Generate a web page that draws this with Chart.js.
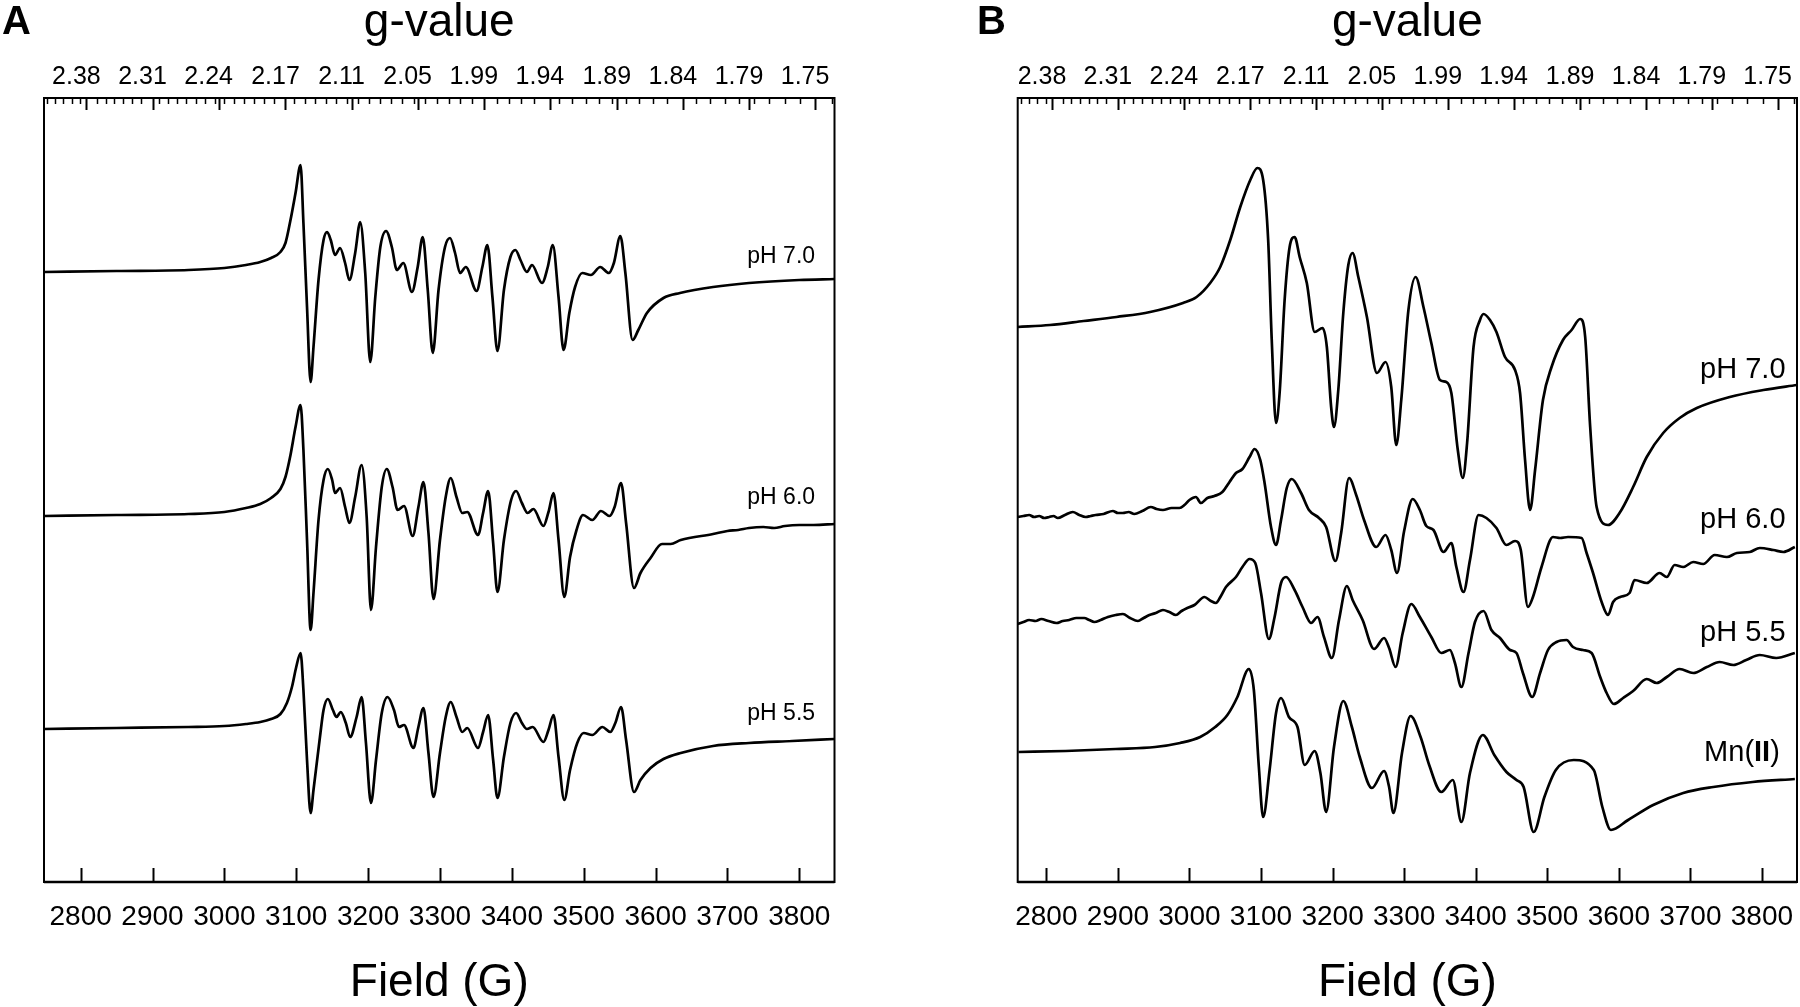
<!DOCTYPE html>
<html><head><meta charset="utf-8">
<script src="https://cdn.jsdelivr.net/npm/chart.js@4.4.1/dist/chart.umd.min.js"></script>
<style>
html,body{margin:0;padding:0;background:#fff;width:1800px;height:1007px;overflow:hidden}
canvas{position:absolute;top:0;width:900px;height:1007px}
#cA{left:0}#cB{left:900px}
</style></head><body>
<canvas id="cA" width="900" height="1007"></canvas>
<canvas id="cB" width="900" height="1007"></canvas>
<script>
// ---------------- data (field in G, intensity in arbitrary units) ----------------
const bottomTicks = [2800,2900,3000,3100,3200,3300,3400,3500,3600,3700,3800];
const gTickLabels = [2.38,2.31,2.24,2.17,2.11,2.05,1.99,1.94,1.89,1.84,1.79,1.75];
const gTickFields = [2808,2900,2992,3085,3177,3269,3361,3453,3546,3638,3730,3822];
const G_TIMES_FIELD = 6690; // g * B (G), used for the 0.01 g minor ticks

// Panel A
const A_pH70_field = [2749,2850,2950,3000,3030,3050,3065,3078,3085,3092,3099,3106,3110,3115,3120,3124,3131,3138,3143,3148,3154,3161,3168,3174,3182,3189,3196,3203,3210,3217,3225,3233,3240,3249,3261,3269,3276,3283,3290,3298,3307,3314,3321,3328,3336,3351,3359,3366,3373,3380,3389,3398,3405,3412,3421,3428,3442,3450,3457,3465,3472,3480,3488,3498,3510,3523,3535,3542,3551,3558,3568,3576,3588,3611,3634,3680,3730,3800,3849];
const A_pH70_int   = [0,1,2,4,7,10,14,20,29,52,79,107,49,-35,-110,-75,-8,32,40,32,17,24,9,-8,19,50,-1,-90,-25,25,41,25,2,9,-20,5,35,-18,-81,-18,25,34,19,-1,5,-19,5,27,-25,-79,-18,15,22,12,0,7,-11,5,27,-25,-78,-41,-15,-1,-3,5,-1,9,36,-1,-68,-58,-41,-26,-21,-15,-11,-8,-7];
const A_pH60_field = [2749,2850,2950,3000,3030,3050,3065,3078,3085,3092,3099,3106,3110,3115,3120,3124,3131,3138,3144,3150,3154,3161,3168,3174,3182,3191,3198,3204,3211,3219,3226,3234,3241,3250,3262,3270,3277,3284,3291,3300,3308,3315,3323,3331,3338,3353,3360,3367,3374,3380,3389,3399,3406,3414,3422,3430,3444,3451,3458,3465,3473,3481,3490,3499,3512,3524,3536,3543,3552,3559,3570,3579,3593,3609,3621,3635,3680,3700,3715,3730,3750,3765,3780,3800,3820,3849];
const A_pH60_int   = [0,1,2,4,8,12,18,27,39,61,89,111,66,-24,-114,-77,-4,36,47,36,23,28,9,-7,19,51,-1,-94,-31,29,47,29,6,10,-20,9,34,-17,-83,-24,19,38,19,3,4,-19,3,25,-27,-76,-24,16,25,13,3,7,-10,4,23,-24,-81,-41,-14,1,-4,5,0,9,33,-7,-72,-57,-42,-28,-28,-24,-18,-15,-14,-12,-11,-12,-10,-9,-9,-8];
const A_pH55_field = [2749,2850,2950,3000,3030,3050,3065,3078,3087,3094,3100,3106,3110,3115,3120,3124,3133,3138,3144,3151,3156,3162,3169,3175,3184,3191,3197,3204,3211,3219,3227,3236,3243,3250,3263,3270,3277,3284,3291,3300,3308,3315,3323,3331,3338,3353,3360,3367,3374,3380,3389,3398,3406,3414,3421,3429,3444,3451,3458,3465,3473,3481,3491,3500,3512,3526,3537,3544,3552,3559,3570,3579,3593,3611,3635,3680,3730,3790,3849];
const A_pH55_int   = [0,1,2,3,5,7,10,15,26,42,62,76,39,-31,-84,-61,-8,19,30,19,12,17,6,-8,12,32,-14,-74,-31,16,32,19,2,4,-19,2,21,-24,-68,-24,12,27,12,-3,1,-19,-3,14,-31,-69,-28,6,16,6,0,2,-13,-1,14,-28,-71,-41,-14,-4,-6,2,-3,6,22,-11,-63,-51,-39,-30,-24,-17,-14,-12,-10];

// Panel B
const B_pH70_field = [2760,2805,2852,2898,2945,2991,3010,3029,3043,3057,3071,3085,3095,3103,3110,3115,3121,3126,3133,3140,3147,3154,3164,3175,3186,3192,3198,3202,3208,3215,3222,3228,3236,3248,3262,3274,3282,3289,3296,3306,3316,3327,3338,3350,3359,3366,3375,3382,3388,3397,3406,3411,3420,3429,3441,3455,3462,3469,3476,3483,3494,3506,3522,3534,3546,3553,3560,3569,3585,3601,3620,3639,3662,3685,3709,3755,3802,3849];
const B_pH70_int   = [0,2,6,10,15,24,30,44,60,87,120,147,159,147,87,-13,-96,-66,27,80,90,70,44,-5,-1,-20,-80,-100,-63,14,62,74,50,10,-46,-35,-60,-118,-73,17,50,20,-16,-53,-55,-66,-123,-151,-116,-20,7,13,7,-5,-30,-43,-66,-133,-183,-143,-73,-40,-13,-3,8,-10,-100,-180,-198,-186,-160,-130,-106,-91,-81,-70,-63,-58];
const B_pH60_field = [2760,2768,2776,2783,2790,2797,2804,2810,2816,2826,2837,2846,2855,2862,2869,2880,2893,2900,2907,2915,2923,2934,2946,2954,2963,2975,2986,2993,3000,3009,3016,3025,3035,3046,3056,3065,3074,3084,3091,3099,3105,3114,3121,3128,3136,3143,3156,3167,3181,3191,3204,3212,3223,3233,3244,3261,3274,3282,3290,3300,3312,3322,3331,3341,3355,3366,3373,3383,3392,3404,3415,3429,3443,3455,3463,3473,3480,3492,3508,3518,3529,3548,3555,3564,3576,3585,3592,3602,3615,3622,3639,3657,3667,3678,3690,3704,3718,3734,3751,3765,3783,3797,3816,3830,3846];
const B_pH60_int   = [0,1,2,0,1,-1,0,1,-1,2,5,2,0,1,2,3,6,4,4,5,3,6,10,8,7,9,9,12,17,20,14,19,21,25,35,44,48,60,68,57,34,-10,-28,-3,29,38,24,7,-1,-10,-44,-16,39,22,-3,-30,-18,-33,-56,-14,18,7,-9,-13,-35,-26,-50,-75,-43,2,-1,-11,-28,-24,-33,-90,-80,-50,-20,-21,-20,-21,-36,-56,-85,-98,-85,-80,-76,-63,-66,-56,-60,-48,-50,-45,-47,-38,-40,-36,-35,-31,-33,-35,-30];
const B_pH55_field = [2760,2768,2776,2785,2793,2803,2814,2823,2832,2842,2853,2860,2867,2876,2886,2897,2907,2917,2928,2936,2944,2953,2963,2972,2981,2989,2997,3007,3021,3030,3037,3044,3051,3065,3074,3084,3092,3100,3111,3119,3128,3135,3147,3158,3170,3179,3188,3199,3209,3220,3228,3242,3258,3272,3279,3288,3298,3310,3322,3338,3352,3364,3371,3380,3390,3399,3411,3422,3434,3448,3457,3466,3479,3490,3501,3513,3527,3536,3550,3562,3574,3583,3593,3606,3620,3639,3653,3667,3685,3704,3723,3741,3760,3778,3797,3820,3846];
const B_pH55_int   = [-1,1,3,2,4,2,0,2,3,5,5,3,1,3,6,8,9,5,2,5,8,10,13,11,8,12,15,18,26,22,20,27,36,46,56,64,60,30,-16,6,40,46,33,16,0,6,-14,-35,3,37,23,3,-26,-15,-25,-44,-10,19,6,-14,-30,-27,-40,-64,-30,1,12,-7,-15,-27,-30,-50,-74,-50,-27,-19,-17,-24,-27,-30,-54,-70,-81,-75,-68,-56,-60,-54,-46,-50,-44,-39,-42,-37,-32,-35,-30];
const B_Mn_field   = [2761,2827,2897,2952,2987,3015,3036,3053,3067,3083,3090,3097,3103,3112,3121,3128,3139,3151,3161,3175,3183,3191,3202,3215,3227,3238,3255,3272,3279,3285,3297,3309,3323,3335,3352,3368,3380,3392,3410,3426,3443,3457,3467,3481,3496,3512,3537,3565,3577,3589,3613,3648,3690,3732,3787,3846];
const B_Mn_int     = [0,1,3,5,9,15,25,37,55,83,62,-15,-65,-18,39,54,35,25,-13,1,-21,-60,5,51,25,-5,-36,-19,-35,-61,-1,36,15,-13,-40,-28,-70,-21,17,-3,-20,-28,-35,-80,-45,-18,-8,-18,-55,-78,-68,-53,-41,-35,-30,-27];

// vertical stacking offsets (same arbitrary units)
const A_offsets = [610, 366, 153];
const B_offsets = [555, 365, 259, 130];
const A_names = ['pH 7.0','pH 6.0','pH 5.5'];
const B_names = ['pH 7.0','pH 6.0','pH 5.5','Mn(II)'];

// ---------------- chart construction ----------------
const FONT = "'Liberation Sans', Arial, Helvetica, sans-serif";
Chart.defaults.font.family = FONT;
Chart.defaults.color = '#000';

function series(fields, ints, off) {
  return fields.map((f, i) => ({x: f, y: ints[i] + off}));
}

function makeChart(canvasId, cfg) {
  const datasets = cfg.series.map(s => ({
    data: series(s[0], s[1], s[2]),
    borderColor: '#000', borderWidth: 2.7, pointRadius: 0, fill: false,
    cubicInterpolationMode: 'monotone'
  }));
  const decor = {
    id: 'decor',
    afterDraw(chart) {
      const {ctx, chartArea: ca, scales} = chart;
      ctx.save();
      ctx.strokeStyle = '#000';
      ctx.lineWidth = 2;
      ctx.strokeRect(ca.left, ca.top, ca.right - ca.left, ca.bottom - ca.top);
      ctx.lineWidth = 2.6;
      ctx.beginPath();
      ctx.moveTo(ca.left, ca.bottom); ctx.lineTo(ca.right, ca.bottom);
      ctx.stroke();
      // bottom ticks, inward
      ctx.lineWidth = 2;
      scales.x.ticks.forEach(t => {
        const px = Math.round(scales.x.getPixelForValue(t.value)) + 0.5;
        ctx.beginPath(); ctx.moveTo(px, ca.bottom); ctx.lineTo(px, ca.bottom - 14); ctx.stroke();
      });
      // top ticks: major at labelled positions, minor every 0.01 g
      const x2 = scales.x2;
      const majors = x2.ticks.map(t => x2.getPixelForValue(t.value));
      majors.forEach(p => {
        const px = Math.round(p) + 0.5;
        ctx.lineWidth = 2;
        ctx.beginPath(); ctx.moveTo(px, ca.top); ctx.lineTo(px, ca.top + 12); ctx.stroke();
      });
      for (let k = 250; k >= 170; k--) {
        const f = G_TIMES_FIELD / (k / 100);
        if (f < x2.min || f > x2.max) continue;
        const p = x2.getPixelForValue(f);
        if (majors.some(m => Math.abs(m - p) < 3.5)) continue;
        const px = Math.round(p) + 0.5;
        ctx.lineWidth = 1.5;
        ctx.beginPath(); ctx.moveTo(px, ca.top); ctx.lineTo(px, ca.top + 6); ctx.stroke();
      }
      // spectrum labels
      ctx.fillStyle = '#000';
      ctx.textAlign = 'right';
      ctx.textBaseline = 'middle';
      cfg.labels.forEach(l => {
        const px = scales.x.getPixelForValue(l.field);
        const py = scales.y.getPixelForValue(l.val);
        if (l.text === 'Mn(II)') {
          const reg = cfg.labelFont, bold = 'bold ' + cfg.labelFont;
          ctx.font = reg;
          const w3 = ctx.measureText(')').width;
          ctx.fillText(')', px, py);
          ctx.font = bold;
          const w2 = ctx.measureText('II').width;
          ctx.fillText('II', px - w3, py);
          ctx.font = reg;
          ctx.fillText('Mn(', px - w3 - w2, py);
        } else {
          ctx.font = cfg.labelFont;
          ctx.fillText(l.text, px, py);
        }
      });
      // panel letter
      ctx.font = `bold 40px ${FONT}`;
      ctx.textAlign = 'left';
      ctx.textBaseline = 'alphabetic';
      ctx.fillText(cfg.letter, cfg.letterX, 34);
      ctx.restore();
    }
  };
  return new Chart(document.getElementById(canvasId), {
    type: 'line',
    data: {datasets},
    options: {
      responsive: false, animation: false, devicePixelRatio: 1,
      layout: {padding: {left: cfg.padL, right: cfg.padR, top: 0, bottom: 0}},
      plugins: {legend: {display: false}, tooltip: {enabled: false}},
      scales: {
        x: {
          type: 'linear', position: 'bottom', min: cfg.min, max: cfg.max,
          afterBuildTicks: s => { s.ticks = bottomTicks.map(v => ({value: v})); },
          afterFit: s => { s.height = 125; s.paddingLeft = 0; s.paddingRight = 0; },
          grid: {display: false, drawTicks: false}, border: {display: false},
          ticks: {autoSkip: false, maxRotation: 0, padding: 18, color: '#000',
                  font: {size: 28}, callback: v => String(v)},
          title: {display: true, text: 'Field (G)', color: '#000',
                  font: {size: 46, lineHeight: 1}, padding: {top: 0, bottom: 1}}
        },
        x2: {
          type: 'linear', position: 'top', min: cfg.min, max: cfg.max,
          afterBuildTicks: s => { s.ticks = gTickFields.map(v => ({value: v})); },
          afterFit: s => { s.height = 98; s.paddingLeft = 0; s.paddingRight = 0; },
          grid: {display: false, drawTicks: false}, border: {display: false},
          ticks: {autoSkip: false, maxRotation: 0, padding: 6, color: '#000', labelOffset: -10,
                  font: {size: 25}, callback: (v, i) => gTickLabels[i].toFixed(2)},
          title: {display: true, text: 'g-value', color: '#000',
                  font: {size: 46, lineHeight: 1}, padding: {top: 0, bottom: 0}}
        },
        y: {display: false, min: 0, max: 784}
      }
    },
    plugins: [decor]
  });
}

makeChart('cA', {
  min: 2749, max: 3849, padL: 44, padR: 65.5,
  series: [[A_pH70_field, A_pH70_int, A_offsets[0]],
           [A_pH60_field, A_pH60_int, A_offsets[1]],
           [A_pH55_field, A_pH55_int, A_offsets[2]]],
  labels: [{text: A_names[0], field: 3822, val: 625},
           {text: A_names[1], field: 3822, val: 384},
           {text: A_names[2], field: 3822, val: 168}],
  labelFont: `23px ${FONT}`, letter: 'A', letterX: 2
});
makeChart('cB', {
  min: 2760, max: 3849, padL: 117.7, padR: 3,
  series: [[B_pH70_field, B_pH70_int, B_offsets[0]],
           [B_pH60_field, B_pH60_int, B_offsets[1]],
           [B_pH55_field, B_pH55_int, B_offsets[2]],
           [B_Mn_field, B_Mn_int, B_offsets[3]]],
  labels: [{text: B_names[0], field: 3833, val: 512},
           {text: B_names[1], field: 3833, val: 362},
           {text: B_names[2], field: 3833, val: 249},
           {text: B_names[3], field: 3825, val: 129}],
  labelFont: `29px ${FONT}`, letter: 'B', letterX: 77
});
</script>
</body></html>
